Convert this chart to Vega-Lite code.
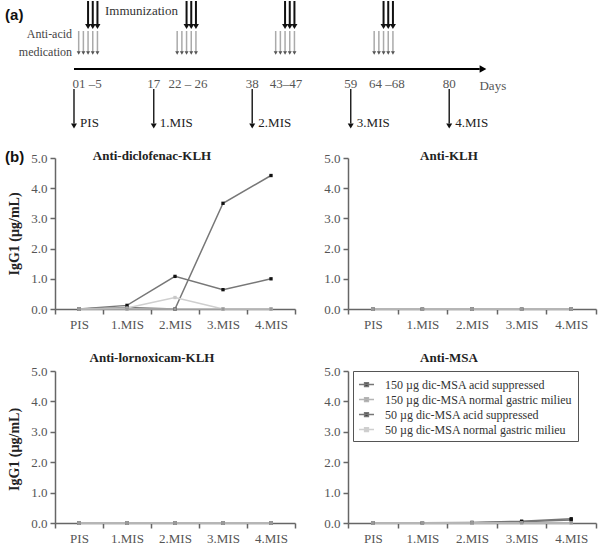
{
  "$schema": "https://vega.github.io/schema/vega-lite/v6.json",
  "autosize": {"type": "pad"},
  "padding": {"left": 5, "top": 0, "right": 5, "bottom": 5},
  "background": "white",
  "config": {"view": {"stroke": null}, "font": "Liberation Serif"},
  "columns": 2,
  "align": "each",
  "bounds": "flush",
  "spacing": {"row": 62, "column": 53},
  "resolve": {
    "scale": {"x": "independent", "y": "independent", "stroke": "independent", "fill": "independent"},
    "axis": {"x": "independent", "y": "independent"},
    "legend": {"stroke": "independent", "fill": "independent"}
  },
  "datasets": {
    "ab": [
      {"panel": "p1", "time": "PIS", "series": "150 µg dic-MSA acid suppressed", "value": 0},
      {"panel": "p1", "time": "1.MIS", "series": "150 µg dic-MSA acid suppressed", "value": 0.05},
      {"panel": "p1", "time": "2.MIS", "series": "150 µg dic-MSA acid suppressed", "value": 0},
      {"panel": "p1", "time": "3.MIS", "series": "150 µg dic-MSA acid suppressed", "value": 3.5},
      {"panel": "p1", "time": "4.MIS", "series": "150 µg dic-MSA acid suppressed", "value": 4.42},
      {"panel": "p1", "time": "PIS", "series": "50 µg dic-MSA acid suppressed", "value": 0},
      {"panel": "p1", "time": "1.MIS", "series": "50 µg dic-MSA acid suppressed", "value": 0.12},
      {"panel": "p1", "time": "2.MIS", "series": "50 µg dic-MSA acid suppressed", "value": 1.08},
      {"panel": "p1", "time": "3.MIS", "series": "50 µg dic-MSA acid suppressed", "value": 0.64},
      {"panel": "p1", "time": "4.MIS", "series": "50 µg dic-MSA acid suppressed", "value": 1.0},
      {"panel": "p1", "time": "PIS", "series": "50 µg dic-MSA normal gastric milieu", "value": 0},
      {"panel": "p1", "time": "1.MIS", "series": "50 µg dic-MSA normal gastric milieu", "value": 0.03},
      {"panel": "p1", "time": "2.MIS", "series": "50 µg dic-MSA normal gastric milieu", "value": 0.38},
      {"panel": "p1", "time": "3.MIS", "series": "50 µg dic-MSA normal gastric milieu", "value": 0},
      {"panel": "p1", "time": "4.MIS", "series": "50 µg dic-MSA normal gastric milieu", "value": 0},
      {"panel": "p1", "time": "PIS", "series": "150 µg dic-MSA normal gastric milieu", "value": 0},
      {"panel": "p1", "time": "1.MIS", "series": "150 µg dic-MSA normal gastric milieu", "value": 0},
      {"panel": "p1", "time": "2.MIS", "series": "150 µg dic-MSA normal gastric milieu", "value": 0},
      {"panel": "p1", "time": "3.MIS", "series": "150 µg dic-MSA normal gastric milieu", "value": 0},
      {"panel": "p1", "time": "4.MIS", "series": "150 µg dic-MSA normal gastric milieu", "value": 0},

      {"panel": "p2", "time": "PIS", "series": "150 µg dic-MSA acid suppressed", "value": 0},
      {"panel": "p2", "time": "1.MIS", "series": "150 µg dic-MSA acid suppressed", "value": 0},
      {"panel": "p2", "time": "2.MIS", "series": "150 µg dic-MSA acid suppressed", "value": 0},
      {"panel": "p2", "time": "3.MIS", "series": "150 µg dic-MSA acid suppressed", "value": 0},
      {"panel": "p2", "time": "4.MIS", "series": "150 µg dic-MSA acid suppressed", "value": 0},
      {"panel": "p2", "time": "PIS", "series": "50 µg dic-MSA acid suppressed", "value": 0},
      {"panel": "p2", "time": "1.MIS", "series": "50 µg dic-MSA acid suppressed", "value": 0},
      {"panel": "p2", "time": "2.MIS", "series": "50 µg dic-MSA acid suppressed", "value": 0},
      {"panel": "p2", "time": "3.MIS", "series": "50 µg dic-MSA acid suppressed", "value": 0},
      {"panel": "p2", "time": "4.MIS", "series": "50 µg dic-MSA acid suppressed", "value": 0},
      {"panel": "p2", "time": "PIS", "series": "50 µg dic-MSA normal gastric milieu", "value": 0},
      {"panel": "p2", "time": "1.MIS", "series": "50 µg dic-MSA normal gastric milieu", "value": 0},
      {"panel": "p2", "time": "2.MIS", "series": "50 µg dic-MSA normal gastric milieu", "value": 0},
      {"panel": "p2", "time": "3.MIS", "series": "50 µg dic-MSA normal gastric milieu", "value": 0},
      {"panel": "p2", "time": "4.MIS", "series": "50 µg dic-MSA normal gastric milieu", "value": 0},
      {"panel": "p2", "time": "PIS", "series": "150 µg dic-MSA normal gastric milieu", "value": 0},
      {"panel": "p2", "time": "1.MIS", "series": "150 µg dic-MSA normal gastric milieu", "value": 0},
      {"panel": "p2", "time": "2.MIS", "series": "150 µg dic-MSA normal gastric milieu", "value": 0},
      {"panel": "p2", "time": "3.MIS", "series": "150 µg dic-MSA normal gastric milieu", "value": 0},
      {"panel": "p2", "time": "4.MIS", "series": "150 µg dic-MSA normal gastric milieu", "value": 0},

      {"panel": "p3", "time": "PIS", "series": "150 µg dic-MSA acid suppressed", "value": 0},
      {"panel": "p3", "time": "1.MIS", "series": "150 µg dic-MSA acid suppressed", "value": 0},
      {"panel": "p3", "time": "2.MIS", "series": "150 µg dic-MSA acid suppressed", "value": 0},
      {"panel": "p3", "time": "3.MIS", "series": "150 µg dic-MSA acid suppressed", "value": 0},
      {"panel": "p3", "time": "4.MIS", "series": "150 µg dic-MSA acid suppressed", "value": 0},
      {"panel": "p3", "time": "PIS", "series": "50 µg dic-MSA acid suppressed", "value": 0},
      {"panel": "p3", "time": "1.MIS", "series": "50 µg dic-MSA acid suppressed", "value": 0},
      {"panel": "p3", "time": "2.MIS", "series": "50 µg dic-MSA acid suppressed", "value": 0},
      {"panel": "p3", "time": "3.MIS", "series": "50 µg dic-MSA acid suppressed", "value": 0},
      {"panel": "p3", "time": "4.MIS", "series": "50 µg dic-MSA acid suppressed", "value": 0},
      {"panel": "p3", "time": "PIS", "series": "50 µg dic-MSA normal gastric milieu", "value": 0},
      {"panel": "p3", "time": "1.MIS", "series": "50 µg dic-MSA normal gastric milieu", "value": 0},
      {"panel": "p3", "time": "2.MIS", "series": "50 µg dic-MSA normal gastric milieu", "value": 0},
      {"panel": "p3", "time": "3.MIS", "series": "50 µg dic-MSA normal gastric milieu", "value": 0},
      {"panel": "p3", "time": "4.MIS", "series": "50 µg dic-MSA normal gastric milieu", "value": 0},
      {"panel": "p3", "time": "PIS", "series": "150 µg dic-MSA normal gastric milieu", "value": 0},
      {"panel": "p3", "time": "1.MIS", "series": "150 µg dic-MSA normal gastric milieu", "value": 0},
      {"panel": "p3", "time": "2.MIS", "series": "150 µg dic-MSA normal gastric milieu", "value": 0},
      {"panel": "p3", "time": "3.MIS", "series": "150 µg dic-MSA normal gastric milieu", "value": 0},
      {"panel": "p3", "time": "4.MIS", "series": "150 µg dic-MSA normal gastric milieu", "value": 0},

      {"panel": "p4", "time": "PIS", "series": "150 µg dic-MSA acid suppressed", "value": 0.01},
      {"panel": "p4", "time": "1.MIS", "series": "150 µg dic-MSA acid suppressed", "value": 0.01},
      {"panel": "p4", "time": "2.MIS", "series": "150 µg dic-MSA acid suppressed", "value": 0.02},
      {"panel": "p4", "time": "3.MIS", "series": "150 µg dic-MSA acid suppressed", "value": 0.06},
      {"panel": "p4", "time": "4.MIS", "series": "150 µg dic-MSA acid suppressed", "value": 0.14},
      {"panel": "p4", "time": "PIS", "series": "50 µg dic-MSA acid suppressed", "value": 0},
      {"panel": "p4", "time": "1.MIS", "series": "50 µg dic-MSA acid suppressed", "value": 0},
      {"panel": "p4", "time": "2.MIS", "series": "50 µg dic-MSA acid suppressed", "value": 0.01},
      {"panel": "p4", "time": "3.MIS", "series": "50 µg dic-MSA acid suppressed", "value": 0.04},
      {"panel": "p4", "time": "4.MIS", "series": "50 µg dic-MSA acid suppressed", "value": 0.1},
      {"panel": "p4", "time": "PIS", "series": "50 µg dic-MSA normal gastric milieu", "value": 0},
      {"panel": "p4", "time": "1.MIS", "series": "50 µg dic-MSA normal gastric milieu", "value": 0},
      {"panel": "p4", "time": "2.MIS", "series": "50 µg dic-MSA normal gastric milieu", "value": 0},
      {"panel": "p4", "time": "3.MIS", "series": "50 µg dic-MSA normal gastric milieu", "value": 0},
      {"panel": "p4", "time": "4.MIS", "series": "50 µg dic-MSA normal gastric milieu", "value": 0},
      {"panel": "p4", "time": "PIS", "series": "150 µg dic-MSA normal gastric milieu", "value": 0.01},
      {"panel": "p4", "time": "1.MIS", "series": "150 µg dic-MSA normal gastric milieu", "value": 0.01},
      {"panel": "p4", "time": "2.MIS", "series": "150 µg dic-MSA normal gastric milieu", "value": 0.01},
      {"panel": "p4", "time": "3.MIS", "series": "150 µg dic-MSA normal gastric milieu", "value": 0.01},
      {"panel": "p4", "time": "4.MIS", "series": "150 µg dic-MSA normal gastric milieu", "value": 0.01}
    ]
  },
  "concat": [
    {
      "width": 240,
      "height": 95,
      "encoding": {
        "x": {"field": "day", "type": "quantitative", "scale": {"domain": [-4.05, 47.12], "nice": false, "zero": false}, "axis": null},
        "y": {"field": "lvl", "type": "quantitative", "scale": {"domain": [-2.7, 6.8], "nice": false, "zero": false}, "axis": null}
      },
      "layer": [
        {
          "data": {"values": [{"day": 1, "lvl": 3.8, "lvl2": 1.7}, {"day": 2, "lvl": 3.8, "lvl2": 1.7}, {"day": 3, "lvl": 3.8, "lvl2": 1.7}, {"day": 4, "lvl": 3.8, "lvl2": 1.7}, {"day": 5, "lvl": 3.8, "lvl2": 1.7},
            {"day": 22, "lvl": 3.8, "lvl2": 1.7}, {"day": 23, "lvl": 3.8, "lvl2": 1.7}, {"day": 24, "lvl": 3.8, "lvl2": 1.7}, {"day": 25, "lvl": 3.8, "lvl2": 1.7}, {"day": 26, "lvl": 3.8, "lvl2": 1.7},
            {"day": 43, "lvl": 3.8, "lvl2": 1.7}, {"day": 44, "lvl": 3.8, "lvl2": 1.7}, {"day": 45, "lvl": 3.8, "lvl2": 1.7}, {"day": 46, "lvl": 3.8, "lvl2": 1.7}, {"day": 47, "lvl": 3.8, "lvl2": 1.7},
            {"day": 64, "lvl": 3.8, "lvl2": 1.7}, {"day": 65, "lvl": 3.8, "lvl2": 1.7}, {"day": 66, "lvl": 3.8, "lvl2": 1.7}, {"day": 67, "lvl": 3.8, "lvl2": 1.7}, {"day": 68, "lvl": 3.8, "lvl2": 1.7}]},
          "mark": {"type": "rule", "color": "#aaaaaa", "strokeWidth": 1.5},
          "encoding": {"y2": {"field": "lvl2"}}
        },
        {
          "data": {"values": [{"day": 1, "lvl": 1.6}, {"day": 2, "lvl": 1.6}, {"day": 3, "lvl": 1.6}, {"day": 4, "lvl": 1.6}, {"day": 5, "lvl": 1.6},
            {"day": 22, "lvl": 1.6}, {"day": 23, "lvl": 1.6}, {"day": 24, "lvl": 1.6}, {"day": 25, "lvl": 1.6}, {"day": 26, "lvl": 1.6},
            {"day": 43, "lvl": 1.6}, {"day": 44, "lvl": 1.6}, {"day": 45, "lvl": 1.6}, {"day": 46, "lvl": 1.6}, {"day": 47, "lvl": 1.6},
            {"day": 64, "lvl": 1.6}, {"day": 65, "lvl": 1.6}, {"day": 66, "lvl": 1.6}, {"day": 67, "lvl": 1.6}, {"day": 68, "lvl": 1.6}]},
          "mark": {"type": "point", "shape": "triangle-down", "filled": true, "color": "#555555", "size": 16, "opacity": 1}
        },
        {
          "data": {"values": [{"day": 3, "lvl": 6.8, "lvl2": 4.4}, {"day": 4, "lvl": 6.8, "lvl2": 4.4}, {"day": 5, "lvl": 6.8, "lvl2": 4.4},
            {"day": 24, "lvl": 6.8, "lvl2": 4.4}, {"day": 25, "lvl": 6.8, "lvl2": 4.4}, {"day": 26, "lvl": 6.8, "lvl2": 4.4},
            {"day": 45, "lvl": 6.8, "lvl2": 4.4}, {"day": 46, "lvl": 6.8, "lvl2": 4.4}, {"day": 47, "lvl": 6.8, "lvl2": 4.4},
            {"day": 66, "lvl": 6.8, "lvl2": 4.4}, {"day": 67, "lvl": 6.8, "lvl2": 4.4}, {"day": 68, "lvl": 6.8, "lvl2": 4.4}]},
          "mark": {"type": "rule", "color": "#111111", "strokeWidth": 2},
          "encoding": {"y2": {"field": "lvl2"}}
        },
        {
          "data": {"values": [{"day": 3, "lvl": 4.25}, {"day": 4, "lvl": 4.25}, {"day": 5, "lvl": 4.25},
            {"day": 24, "lvl": 4.25}, {"day": 25, "lvl": 4.25}, {"day": 26, "lvl": 4.25},
            {"day": 45, "lvl": 4.25}, {"day": 46, "lvl": 4.25}, {"day": 47, "lvl": 4.25},
            {"day": 66, "lvl": 4.25}, {"day": 67, "lvl": 4.25}, {"day": 68, "lvl": 4.25}]},
          "mark": {"type": "point", "shape": "triangle-down", "filled": true, "color": "#111111", "size": 36, "opacity": 1}
        },
        {
          "data": {"values": [{"day": 0}, {"day": 1}, {"day": 2}, {"day": 3}, {"day": 4}, {"day": 5}, {"day": 17},
            {"day": 22}, {"day": 23}, {"day": 24}, {"day": 25}, {"day": 26}, {"day": 38},
            {"day": 43}, {"day": 44}, {"day": 45}, {"day": 46}, {"day": 47}, {"day": 59},
            {"day": 64}, {"day": 65}, {"day": 66}, {"day": 67}, {"day": 68}, {"day": 80}]},
          "mark": {"type": "rule", "color": "#999999", "strokeWidth": 1.5},
          "encoding": {"y": {"datum": 1.0}, "y2": {"datum": -0.9}}
        },
        {
          "data": {"values": [{"day": 0, "day2": 86.5, "lvl": 0}]},
          "mark": {"type": "rule", "color": "#000000", "strokeWidth": 2},
          "encoding": {"x2": {"field": "day2"}}
        },
        {
          "data": {"values": [{"day": 87.2, "lvl": 0}]},
          "mark": {"type": "point", "shape": "triangle-right", "filled": true, "color": "#000000", "size": 60, "opacity": 1}
        },
        {
          "data": {"values": [{"day": 2.8, "lvl": -1.45, "label": "01 –5"}, {"day": 17, "lvl": -1.45, "label": "17"}, {"day": 24.3, "lvl": -1.45, "label": "22 – 26"},
            {"day": 38, "lvl": -1.45, "label": "38"}, {"day": 45.2, "lvl": -1.45, "label": "43–47"}, {"day": 59, "lvl": -1.45, "label": "59"},
            {"day": 66.7, "lvl": -1.45, "label": "64 –68"}, {"day": 80, "lvl": -1.45, "label": "80"}, {"day": 89.3, "lvl": -1.7, "label": "Days"}]},
          "mark": {"type": "text", "font": "Liberation Serif", "fontSize": 13, "color": "#555555", "align": "center", "baseline": "middle"},
          "encoding": {"text": {"field": "label"}}
        },
        {
          "data": {"values": [{"day": 0, "lvl": -2.0, "lvl2": -5.45}, {"day": 17, "lvl": -2.0, "lvl2": -5.45}, {"day": 38, "lvl": -2.0, "lvl2": -5.45}, {"day": 59, "lvl": -2.0, "lvl2": -5.45}, {"day": 80, "lvl": -2.0, "lvl2": -5.45}]},
          "mark": {"type": "rule", "color": "#222222", "strokeWidth": 1.5},
          "encoding": {"y2": {"field": "lvl2"}}
        },
        {
          "data": {"values": [{"day": 0, "lvl": -5.7}, {"day": 17, "lvl": -5.7}, {"day": 38, "lvl": -5.7}, {"day": 59, "lvl": -5.7}, {"day": 80, "lvl": -5.7}]},
          "mark": {"type": "point", "shape": "triangle-down", "filled": true, "color": "#111111", "size": 36, "opacity": 1}
        },
        {
          "data": {"values": [{"day": 1.3, "lvl": -5.35, "label": "PIS"}, {"day": 18.3, "lvl": -5.35, "label": "1.MIS"}, {"day": 39.3, "lvl": -5.35, "label": "2.MIS"}, {"day": 60.3, "lvl": -5.35, "label": "3.MIS"}, {"day": 81.3, "lvl": -5.35, "label": "4.MIS"}]},
          "mark": {"type": "text", "font": "Liberation Serif", "fontSize": 13, "color": "#222222", "align": "left", "baseline": "middle"},
          "encoding": {"text": {"field": "label"}}
        },
        {
          "data": {"values": [{"day": 6.6, "lvl": 5.8, "label": "Immunization"}]},
          "mark": {"type": "text", "font": "Liberation Serif", "fontSize": 13, "color": "#333333", "align": "left", "baseline": "middle"},
          "encoding": {"text": {"field": "label"}}
        },
        {
          "data": {"values": [{"day": -0.4, "lvl": 3.5, "label": "Anti-acid"}, {"day": -0.4, "lvl": 1.7, "label": "medication"}]},
          "mark": {"type": "text", "font": "Liberation Serif", "fontSize": 12, "color": "#444444", "align": "right", "baseline": "middle"},
          "encoding": {"text": {"field": "label"}}
        },
        {
          "data": {"values": [{"day": -14.7, "lvl": 5.4, "label": "(a)"}, {"day": -14.7, "lvl": -8.8, "label": "(b)"}]},
          "mark": {"type": "text", "font": "Liberation Sans", "fontSize": 15, "fontWeight": "bold", "color": "#111111", "align": "left", "baseline": "middle"},
          "encoding": {"text": {"field": "label"}}
        }
      ]
    },
    {
      "width": 248,
      "height": 95,
      "data": {"values": [{"a": 1}]},
      "mark": {"type": "text"},
      "encoding": {"text": {"value": ""}}
    },
    {
      "width": 240,
      "height": 151,
      "title": {"text": "Anti-diclofenac-KLH", "frame": "group", "anchor": "middle", "baseline": "middle", "offset": -17, "dx": -23, "font": "Liberation Serif", "fontSize": 13, "fontWeight": "bold", "color": "#222222"},
      "data": {"name": "ab"},
      "transform": [{"filter": "datum.panel === 'p1'"}],
      "encoding": {
        "x": {"field": "time", "type": "ordinal", "sort": ["PIS", "1.MIS", "2.MIS", "3.MIS", "4.MIS"], "scale": {"type": "band", "paddingInner": 0, "paddingOuter": 0},
          "axis": {"title": null, "tickBand": "extent", "labelAngle": 0, "labelFont": "Liberation Serif", "labelFontSize": 13, "labelColor": "#555555", "labelPadding": 4, "tickSize": 5, "tickColor": "#666666", "tickWidth": 1.5, "domainColor": "#666666", "domainWidth": 1.5}},
        "y": {"field": "value", "type": "quantitative", "scale": {"domain": [0, 5], "nice": false},
          "axis": {"values": [0, 1, 2, 3, 4, 5], "format": ".1f", "grid": false, "labelFont": "Liberation Serif", "labelFontSize": 13, "labelColor": "#555555", "labelPadding": 3, "tickSize": 5, "tickColor": "#666666", "tickWidth": 1.5, "domainColor": "#666666", "domainWidth": 1.5,
            "title": "IgG1 (µg/mL)", "titleFont": "Liberation Serif", "titleFontSize": 14, "titleFontWeight": "bold", "titleColor": "#222222", "titleAngle": 270, "titleX": -41, "titleY": 75.5, "titleAlign": "center", "titleBaseline": "middle"}}
      },
      "layer": [
        {"mark": {"type": "line", "strokeWidth": 1.5},
          "encoding": {"stroke": {"field": "series", "type": "nominal", "scale": {"domain": ["150 µg dic-MSA acid suppressed", "150 µg dic-MSA normal gastric milieu", "50 µg dic-MSA acid suppressed", "50 µg dic-MSA normal gastric milieu"], "range": ["#777777", "#b5b5b5", "#777777", "#cfcfcf"]}, "legend": null}}},
        {"mark": {"type": "point", "shape": "square", "filled": true, "size": 11, "opacity": 1},
          "encoding": {"fill": {"field": "series", "type": "nominal", "scale": {"domain": ["150 µg dic-MSA acid suppressed", "150 µg dic-MSA normal gastric milieu", "50 µg dic-MSA acid suppressed", "50 µg dic-MSA normal gastric milieu"], "range": ["#111111", "#999999", "#111111", "#c8c8c8"]}, "legend": null}}}
      ]
    },
    {
      "width": 248,
      "height": 151,
      "title": {"text": "Anti-KLH", "frame": "group", "anchor": "middle", "baseline": "middle", "offset": -17, "dx": -23, "font": "Liberation Serif", "fontSize": 13, "fontWeight": "bold", "color": "#222222"},
      "data": {"name": "ab"},
      "transform": [{"filter": "datum.panel === 'p2'"}],
      "encoding": {
        "x": {"field": "time", "type": "ordinal", "sort": ["PIS", "1.MIS", "2.MIS", "3.MIS", "4.MIS"], "scale": {"type": "band", "paddingInner": 0, "paddingOuter": 0},
          "axis": {"title": null, "tickBand": "extent", "labelAngle": 0, "labelFont": "Liberation Serif", "labelFontSize": 13, "labelColor": "#555555", "labelPadding": 4, "tickSize": 5, "tickColor": "#666666", "tickWidth": 1.5, "domainColor": "#666666", "domainWidth": 1.5}},
        "y": {"field": "value", "type": "quantitative", "scale": {"domain": [0, 5], "nice": false},
          "axis": {"values": [0, 1, 2, 3, 4, 5], "format": ".1f", "grid": false, "title": null, "labelFont": "Liberation Serif", "labelFontSize": 13, "labelColor": "#555555", "labelPadding": 3, "tickSize": 5, "tickColor": "#666666", "tickWidth": 1.5, "domainColor": "#666666", "domainWidth": 1.5}}
      },
      "layer": [
        {"mark": {"type": "line", "strokeWidth": 1.5},
          "encoding": {"stroke": {"field": "series", "type": "nominal", "scale": {"domain": ["150 µg dic-MSA acid suppressed", "150 µg dic-MSA normal gastric milieu", "50 µg dic-MSA acid suppressed", "50 µg dic-MSA normal gastric milieu"], "range": ["#777777", "#b5b5b5", "#777777", "#cfcfcf"]}, "legend": null}}},
        {"mark": {"type": "point", "shape": "square", "filled": true, "size": 11, "opacity": 1},
          "encoding": {"fill": {"field": "series", "type": "nominal", "scale": {"domain": ["150 µg dic-MSA acid suppressed", "150 µg dic-MSA normal gastric milieu", "50 µg dic-MSA acid suppressed", "50 µg dic-MSA normal gastric milieu"], "range": ["#111111", "#999999", "#111111", "#c8c8c8"]}, "legend": null}}}
      ]
    },
    {
      "width": 240,
      "height": 152,
      "title": {"text": "Anti-lornoxicam-KLH", "frame": "group", "anchor": "middle", "baseline": "middle", "offset": -6, "dx": -23, "font": "Liberation Serif", "fontSize": 13, "fontWeight": "bold", "color": "#222222"},
      "data": {"name": "ab"},
      "transform": [{"filter": "datum.panel === 'p3'"}],
      "encoding": {
        "x": {"field": "time", "type": "ordinal", "sort": ["PIS", "1.MIS", "2.MIS", "3.MIS", "4.MIS"], "scale": {"type": "band", "paddingInner": 0, "paddingOuter": 0},
          "axis": {"title": null, "tickBand": "extent", "labelAngle": 0, "labelFont": "Liberation Serif", "labelFontSize": 13, "labelColor": "#555555", "labelPadding": 4, "tickSize": 5, "tickColor": "#666666", "tickWidth": 1.5, "domainColor": "#666666", "domainWidth": 1.5}},
        "y": {"field": "value", "type": "quantitative", "scale": {"domain": [0, 5], "nice": false},
          "axis": {"values": [0, 1, 2, 3, 4, 5], "format": ".1f", "grid": false, "labelFont": "Liberation Serif", "labelFontSize": 13, "labelColor": "#555555", "labelPadding": 3, "tickSize": 5, "tickColor": "#666666", "tickWidth": 1.5, "domainColor": "#666666", "domainWidth": 1.5,
            "title": "IgG1 (µg/mL)", "titleFont": "Liberation Serif", "titleFontSize": 14, "titleFontWeight": "bold", "titleColor": "#222222", "titleAngle": 270, "titleX": -41, "titleY": 78, "titleAlign": "center", "titleBaseline": "middle"}}
      },
      "layer": [
        {"mark": {"type": "line", "strokeWidth": 1.5},
          "encoding": {"stroke": {"field": "series", "type": "nominal", "scale": {"domain": ["150 µg dic-MSA acid suppressed", "150 µg dic-MSA normal gastric milieu", "50 µg dic-MSA acid suppressed", "50 µg dic-MSA normal gastric milieu"], "range": ["#777777", "#b5b5b5", "#777777", "#cfcfcf"]}, "legend": null}}},
        {"mark": {"type": "point", "shape": "square", "filled": true, "size": 11, "opacity": 1},
          "encoding": {"fill": {"field": "series", "type": "nominal", "scale": {"domain": ["150 µg dic-MSA acid suppressed", "150 µg dic-MSA normal gastric milieu", "50 µg dic-MSA acid suppressed", "50 µg dic-MSA normal gastric milieu"], "range": ["#111111", "#999999", "#111111", "#c8c8c8"]}, "legend": null}}}
      ]
    },
    {
      "width": 248,
      "height": 152,
      "title": {"text": "Anti-MSA", "frame": "group", "anchor": "middle", "baseline": "middle", "offset": -6, "dx": -23, "font": "Liberation Serif", "fontSize": 13, "fontWeight": "bold", "color": "#222222"},
      "data": {"name": "ab"},
      "transform": [{"filter": "datum.panel === 'p4'"}],
      "encoding": {
        "x": {"field": "time", "type": "ordinal", "sort": ["PIS", "1.MIS", "2.MIS", "3.MIS", "4.MIS"], "scale": {"type": "band", "paddingInner": 0, "paddingOuter": 0},
          "axis": {"title": null, "tickBand": "extent", "labelAngle": 0, "labelFont": "Liberation Serif", "labelFontSize": 13, "labelColor": "#555555", "labelPadding": 4, "tickSize": 5, "tickColor": "#666666", "tickWidth": 1.5, "domainColor": "#666666", "domainWidth": 1.5}},
        "y": {"field": "value", "type": "quantitative", "scale": {"domain": [0, 5], "nice": false},
          "axis": {"values": [0, 1, 2, 3, 4, 5], "format": ".1f", "grid": false, "title": null, "labelFont": "Liberation Serif", "labelFontSize": 13, "labelColor": "#555555", "labelPadding": 3, "tickSize": 5, "tickColor": "#666666", "tickWidth": 1.5, "domainColor": "#666666", "domainWidth": 1.5}}
      },
      "layer": [
        {"mark": {"type": "line", "strokeWidth": 1.5},
          "encoding": {"stroke": {"field": "series", "type": "nominal", "scale": {"domain": ["150 µg dic-MSA acid suppressed", "150 µg dic-MSA normal gastric milieu", "50 µg dic-MSA acid suppressed", "50 µg dic-MSA normal gastric milieu"], "range": ["#777777", "#b5b5b5", "#777777", "#cfcfcf"]},
            "legend": {"orient": "none", "legendX": 5, "legendY": 0, "title": null, "direction": "vertical", "strokeColor": "#555555", "fillColor": "white", "padding": 5, "symbolType": "M-1,0H1M-0.25,-0.25H0.25V0.25H-0.25Z", "symbolSize": 225, "symbolStrokeWidth": 1.5, "labelFont": "Liberation Serif", "labelFontSize": 12, "labelColor": "#333333", "labelOffset": 10, "rowPadding": 0, "labelLimit": 400}}}},
        {"mark": {"type": "point", "shape": "square", "filled": true, "size": 11, "opacity": 1},
          "encoding": {"fill": {"field": "series", "type": "nominal", "scale": {"domain": ["150 µg dic-MSA acid suppressed", "150 µg dic-MSA normal gastric milieu", "50 µg dic-MSA acid suppressed", "50 µg dic-MSA normal gastric milieu"], "range": ["#111111", "#999999", "#111111", "#c8c8c8"]},
            "legend": {"orient": "none", "legendX": 5, "legendY": 0, "title": null, "direction": "vertical", "strokeColor": "#555555", "fillColor": "white", "padding": 5, "symbolType": "M-1,0H1M-0.25,-0.25H0.25V0.25H-0.25Z", "symbolSize": 225, "symbolStrokeWidth": 1.5, "labelFont": "Liberation Serif", "labelFontSize": 12, "labelColor": "#333333", "labelOffset": 10, "rowPadding": 0, "labelLimit": 400}}}}
      ]
    }
  ]
}
